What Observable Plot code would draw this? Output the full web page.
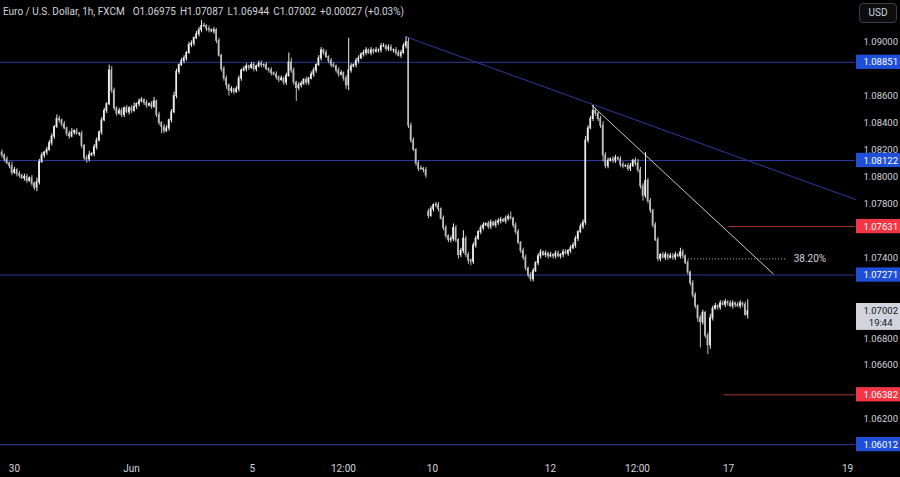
<!DOCTYPE html>
<html><head><meta charset="utf-8">
<script src="https://cdn.jsdelivr.net/npm/d3@7"></script>
<script src="https://cdn.jsdelivr.net/npm/@observablehq/plot@0.6"></script>
<style>
html,body{margin:0;padding:0;background:#000;}
#wrap{position:relative;width:900px;height:477px;overflow:hidden;font-family:Roboto,"Liberation Sans",sans-serif;}
#hdr{position:absolute;left:3px;top:6px;height:14px;color:#d1d4dc;font-size:10px;white-space:nowrap;display:flex;}
#hdr span{margin-right:4px;}
#hdr span:first-child{margin-right:8px;}
#usd{position:absolute;left:859px;top:3px;width:38px;height:20px;border:1px solid #3a3d48;border-radius:4px;box-sizing:border-box;background:#0d0d10;color:#d1d4dc;font-size:10px;line-height:18px;text-align:center;}
</style></head><body>
<div id="wrap"><div id="chart"></div><div id="hdr"></div><div id="usd">USD</div></div>
<script>
// ---- data (hourly EUR/USD closes, FXCM) ----
const closes = [
1.0816,1.0813,1.0810,1.0808,1.0803,1.0805,1.0802,1.0801,1.0799,1.0800,
1.0797,1.0799,1.0795,1.0792,1.0796,1.0811,1.0816,1.0818,1.0820,1.0825,
1.0830,1.0837,1.0843,1.0842,1.0839,1.0836,1.0832,1.0830,1.0833,1.0834,
1.0832,1.0832,1.0823,1.0814,1.0813,1.0816,1.0817,1.0822,1.0827,1.0833,
1.0842,1.0849,1.0854,1.0879,1.0864,1.0851,1.0847,1.0849,1.0846,1.0851,
1.0848,1.0851,1.0849,1.0852,1.0854,1.0856,1.0857,1.0855,1.0853,1.0854,
1.0852,1.0856,1.0846,1.0840,1.0837,1.0834,1.0836,1.0842,1.0848,1.0860,
1.0878,1.0883,1.0886,1.0888,1.0892,1.0898,1.0899,1.0903,1.0906,1.0909,
1.0912,1.0912,1.0910,1.0909,1.0908,1.0909,1.0901,1.0890,1.0880,1.0873,
1.0868,1.0864,1.0865,1.0863,1.0865,1.0873,1.0879,1.0880,1.0882,1.0881,
1.0883,1.0880,1.0882,1.0884,1.0883,1.0883,1.0880,1.0879,1.0877,1.0876,
1.0874,1.0872,1.0873,1.0870,1.0875,1.0885,1.0879,1.0870,1.0866,1.0868,
1.0869,1.0872,1.0870,1.0873,1.0876,1.0879,1.0883,1.0888,1.0894,1.0892,
1.0889,1.0886,1.0883,1.0882,1.0879,1.0876,1.0877,1.0873,1.0868,1.0879,
1.0882,1.0883,1.0886,1.0888,1.0891,1.0892,1.0894,1.0892,1.0894,1.0893,
1.0894,1.0894,1.0897,1.0897,1.0895,1.0896,1.0894,1.0894,1.0892,1.0890,
1.0892,1.0897,1.0900,1.0838,1.0827,1.0820,1.0810,1.0806,1.0806,1.0805,
1.0801,1.0771,1.0776,1.0779,1.0779,1.0776,1.0769,1.0762,1.0756,1.0753,
1.0754,1.0762,1.0753,1.0742,1.0745,1.0754,1.0742,1.0738,1.0737,1.0749,
1.0754,1.0759,1.0762,1.0764,1.0765,1.0763,1.0766,1.0764,1.0766,1.0767,
1.0768,1.0767,1.0769,1.0770,1.0769,1.0764,1.0759,1.0751,1.0745,1.0740,
1.0732,1.0727,1.0724,1.0730,1.0736,1.0741,1.0744,1.0742,1.0743,1.0741,
1.0742,1.0741,1.0743,1.0741,1.0742,1.0744,1.0743,1.0745,1.0747,1.0749,
1.0754,1.0759,1.0763,1.0766,1.0827,1.0836,1.0843,1.0849,1.0847,1.0843,
1.0838,1.0816,1.0808,1.0812,1.0813,1.0812,1.0814,1.0813,1.0809,1.0808,
1.0808,1.0806,1.0808,1.0812,1.0810,1.0805,1.0793,1.0786,1.0797,1.0782,
1.0775,1.0764,1.0753,1.0739,1.0742,1.0740,1.0742,1.0740,1.0741,1.0740,
1.0742,1.0741,1.0744,1.0741,1.0736,1.0729,1.0721,1.0712,1.0704,1.0695,
1.0692,1.0699,1.0682,1.0675,1.0695,1.0702,1.0704,1.0703,1.0706,1.0705,
1.0707,1.0706,1.0704,1.0706,1.0705,1.0704,1.0706,1.0705,1.06975,1.07002
];
// upper / lower wick lengths in pips
const wickUp = [
2,1,2,1,3,2,1,2,1,2, 2,1,2,1,3,2,2,1,2,2,
2,1,3,2,1,2,1,2,3,1, 2,1,2,1,2,3,1,2,2,1,
2,2,1,4,3,2,1,2,2,1, 2,1,2,3,1,2,2,1,2,1,
2,3,1,2,1,2,2,1,2,3, 2,1,2,2,1,2,2,1,2,2,
4,2,1,2,1,2,1,2,1,2, 2,1,2,1,2,2,1,2,2,1,
2,2,1,2,2,1,2,1,2,1, 2,1,2,1,2,7,3,2,1,2,
2,1,2,1,2,2,1,2,2,1, 2,1,2,2,1,2,2,1,2,24,
2,1,2,2,1,2,2,1,2,1, 2,1,2,2,1,2,2,1,2,2,
2,2,4,3,2,2,1,2,2,1, 2,2,2,1,2,2,1,2,2,1,
2,3,2,1,2,6,2,2,1,2, 2,1,2,2,1,2,2,1,2,2,
2,1,2,2,4,1,2,2,1,2, 2,1,2,2,1,2,2,1,2,1,
2,1,2,2,1,2,2,1,2,2, 2,1,2,2,3,2,2,4,2,1,
2,3,2,2,1,2,2,1,2,2, 1,2,2,1,2,3,2,2,21,2,
2,1,2,2,1,2,2,1,2,2, 2,1,3,2,1,2,1,2,2,1,
2,2,1,2,3,2,2,1,2,2, 2,1,2,2,1,2,2,1,2,8.5
];
const wickDn = [
2,2,1,2,2,1,2,2,1,2, 2,1,2,2,3,2,1,2,2,1,
2,2,1,2,2,1,2,2,1,2, 1,2,2,2,3,2,1,2,2,1,
2,1,2,1,2,2,2,1,2,2, 1,2,2,1,2,2,1,2,2,1,
2,1,2,2,5,2,1,2,2,1, 2,2,1,2,2,1,2,2,1,2,
2,1,2,2,1,2,2,1,2,2, 3,4,2,2,1,2,2,1,2,2,
1,2,2,1,2,2,1,2,2,1, 2,2,1,2,2,1,2,2,10,2,
2,1,2,2,1,2,2,1,2,2, 1,2,2,1,2,2,1,2,3,4,
2,1,2,2,1,2,2,1,2,2, 1,2,2,1,2,2,1,2,2,1,
2,1,2,2,2,1,2,2,1,2, 2,2,1,2,2,2,1,2,2,2,
2,2,2,3,2,2,2,3,3,2, 2,1,2,2,1,2,2,1,2,2,
2,1,2,2,1,2,2,1,2,2, 2,2,2,2,1,2,2,1,2,2,
1,2,2,1,2,2,1,2,2,1, 2,2,1,2,2,2,1,2,2,2,
2,5,2,2,1,2,2,1,2,2, 1,2,2,1,2,2,2,4,2,2,
2,2,1,2,2,1,2,2,1,2, 2,1,2,2,1,2,2,2,2,3,
19,2,2,7,3,2,1,2,2,1, 2,2,1,2,2,1,2,2,1,3.1
];
const firstOpen = 1.0818;
const gapOpens = [[171, 1.0774]];          // Monday open after weekend gap
const xTickIdx = [5.0, 51.9, 100.4, 136.9, 172.6, 219.9, 254.8, 291.3, 339.0];
const xTickLabels = ["30", "Jun", "5", "12:00", "10", "12", "12:00", "17", "19"];
const yTicks = [1.09, 1.086, 1.084, 1.082, 1.08, 1.078, 1.074, 1.068, 1.066, 1.062];
const blueLevels = [1.08851, 1.08122, 1.07271, 1.06012];
const redLevels = [1.07631, 1.06382];
const redLevelStart = [291.3, 289.7];
const trendBlue = [[162, 1.0904], [342.2, 1.07832]];
const trendWhite = [[236.6, 1.0853], [309.2, 1.0728]];
const fibLevel = 1.07391, fibStart = 274.1, fibEnd = 314.9, fibLabel = "38.20%";
const lastPrice = 1.07002, countdown = "19:44";
const header = ["Euro / U.S. Dollar, 1h, FXCM", "O1.06975", "H1.07087", "L1.06944", "C1.07002", "+0.00027 (+0.03%)"];

// ---- build ----
const pip = 0.0001;
const gapMap = new Map(gapOpens);
const candles = closes.map((c, i) => {
  const o = i === 0 ? firstOpen : (gapMap.has(i) ? gapMap.get(i) : closes[i - 1]);
  return {i, o, c, h: Math.max(o, c) + wickUp[i] * pip, l: Math.min(o, c) - wickDn[i] * pip, up: c >= o};
});
const xMin = -0.6, xMax = 342.2;
const boxX1 = 342.6, boxX2 = 361, boxXc = 352.3, boxHalf = 0.00053;
const upCol = "#eeeeee", dnCol = "#bdbdbd";
const blue = "#2b3aa3", blueBox = "#1f4fd8", red = "#a8342c", redBox = "#f23645";

const chart = Plot.plot({
  width: 900, height: 477,
  marginLeft: 0, marginRight: 45, marginTop: 0, marginBottom: 22,
  style: {background: "#000", color: "#d1d4dc", fontFamily: "Roboto, 'Liberation Sans', sans-serif", fontSize: "9.5px"},
  x: {type: "linear", domain: [xMin, xMax]},
  y: {domain: [1.05931, 1.09310]},
  marks: [
    Plot.ruleY(blueLevels, {stroke: blue, strokeWidth: 1}),
    Plot.ruleY(redLevels.map((p, k) => ({p, s: redLevelStart[k]})), {y: "p", x1: "s", x2: xMax, stroke: red, strokeWidth: 1}),
    Plot.line(trendBlue, {x: d => d[0], y: d => d[1], stroke: blue, strokeWidth: 1}),
    Plot.line(trendWhite, {x: d => d[0], y: d => d[1], stroke: "#c9c9c9", strokeWidth: 1}),
    Plot.ruleY([fibLevel], {x1: fibStart, x2: fibEnd, stroke: "#bbbbbb", strokeWidth: 1, strokeDasharray: "1,2"}),
    Plot.text([fibLevel], {x: fibEnd + 2.5, y: d => d, text: () => fibLabel, textAnchor: "start", fill: "#d1d4dc", fontSize: 10}),
    Plot.ruleX(candles, {x: "i", y1: "l", y2: "h", stroke: d => d.up ? upCol : dnCol, strokeWidth: 1}),
    Plot.rect(candles, {x1: d => d.i - 0.32, x2: d => d.i + 0.32, y1: "o", y2: "c", fill: d => d.up ? upCol : dnCol, insetTop: -0.5, insetBottom: -0.5}),
    Plot.axisY({ticks: yTicks, anchor: "right", tickSize: 0, tickPadding: 8, tickFormat: d => d.toFixed(5), label: null, fill: "#d1d4dc", fontSize: 9.5}),
    Plot.axisX({ticks: xTickIdx, anchor: "bottom", tickSize: 0, tickPadding: 9, tickFormat: d => xTickLabels[xTickIdx.indexOf(d)], label: null, fill: "#d1d4dc", fontSize: 10}),
    Plot.rect(blueLevels, {x1: boxX1, x2: boxX2, y1: d => d - boxHalf, y2: d => d + boxHalf, fill: blueBox}),
    Plot.text(blueLevels, {x: boxXc, y: d => d, text: d => d.toFixed(5), fill: "#ffffff", fontSize: 9.5}),
    Plot.rect(redLevels, {x1: boxX1, x2: boxX2, y1: d => d - boxHalf, y2: d => d + boxHalf, fill: redBox}),
    Plot.text(redLevels, {x: boxXc, y: d => d, text: d => d.toFixed(5), fill: "#ffffff", fontSize: 9.5}),
    Plot.rect([lastPrice], {x1: boxX1, x2: boxX2, y1: d => d + 0.00058, y2: d => d - 0.00142, fill: "#d1d4dc"}),
    Plot.text([lastPrice], {x: boxXc, y: d => d, text: d => d.toFixed(5), fill: "#131722", fontSize: 9.5}),
    Plot.text([lastPrice], {x: boxXc, y: d => d - 0.00089, text: () => countdown, fill: "#131722", fontSize: 9.5})
  ]
});
document.getElementById("chart").appendChild(chart);
const hdr = document.getElementById("hdr");
header.forEach(t => {
  const s = document.createElement("span");
  s.textContent = t;
  hdr.appendChild(s);
});
</script>
</body></html>
